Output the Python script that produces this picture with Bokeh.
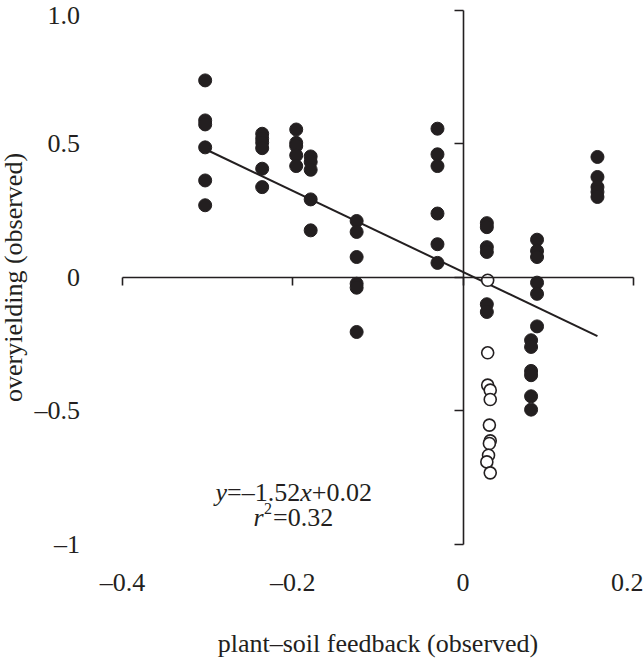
from bokeh.plotting import figure
from bokeh.models import Range1d, LinearAxis, FixedTicker, Label
from bokeh.embed import file_html
from bokeh.resources import INLINE

# ---- data ----
x_ticks = [-0.4, -0.2, 0.0, 0.2]
x_tick_labels = ["–0.4", "–0.2", "0", "0.2"]
y_ticks = [-1.0, -0.5, 0.0, 0.5, 1.0]
y_tick_labels = ["–1", "–0.5", "0", "0.5", "1.0"]

filled_x = ([-0.303] * 6 + [-0.236] * 6 + [-0.196] * 5 + [-0.179] * 5 + [-0.125] * 6 +
            [-0.030] * 6 + [0.028] * 6 + [0.087] * 6 + [0.080] * 6 + [0.158] * 5)
filled_y = [0.738, 0.588, 0.573, 0.487, 0.363, 0.270,
            0.538, 0.520, 0.505, 0.484, 0.407, 0.338,
            0.554, 0.504, 0.492, 0.457, 0.417,
            0.453, 0.432, 0.403, 0.292, 0.176,
            0.211, 0.170, 0.076, -0.024, -0.039, -0.205,
            0.557, 0.461, 0.417, 0.239, 0.124, 0.054,
            0.203, 0.188, 0.113, 0.095, -0.101, -0.130,
            0.141, 0.099, 0.076, -0.020, -0.062, -0.184,
            -0.236, -0.261, -0.351, -0.367, -0.446, -0.496,
            0.451, 0.376, 0.338, 0.320, 0.301]

open_x = [0.029, 0.029, 0.029, 0.032, 0.032, 0.031, 0.032, 0.031, 0.030, 0.028, 0.032]
open_y = [-0.011, -0.283, -0.404, -0.423, -0.458, -0.554, -0.613, -0.623, -0.667, -0.692, -0.733]

slope = -1.52
intercept = 0.02
fit_x = [-0.302, 0.158]
fit_y = [slope * v + intercept for v in fit_x]

FONT = "Liberation Serif"
FS = "26px"
INK = "#231f20"

# the Bokeh page template has no body margin: the canvas fills the 643x664 window
p = figure(width=643, height=664,
           x_range=Range1d(-0.5435, 0.2121), y_range=Range1d(-1.4513, 1.0375),
           output_backend="svg", toolbar_location=None,
           x_axis_type=None, y_axis_type=None,
           min_border_left=0, min_border_right=0, min_border_top=0, min_border_bottom=0)
p.outline_line_color = None
p.xgrid.visible = False
p.ygrid.visible = False

# crossing axes at zero; tick labels and titles pushed out to the plot edges
xax = LinearAxis(fixed_location=0, bounds=(-0.4, 0.2), ticker=FixedTicker(ticks=x_ticks),
                 major_label_overrides=dict(zip(x_ticks, x_tick_labels)),
                 axis_line_width=1.6, axis_line_color=INK,
                 major_tick_line_width=1.6, major_tick_line_color=INK,
                 major_tick_in=0, major_tick_out=8, minor_tick_line_color=None,
                 major_label_text_font=FONT, major_label_text_font_size=FS,
                 major_label_text_color=INK, major_label_standoff=283,
                 axis_label="plant–soil feedback (observed)",
                 axis_label_text_font=FONT, axis_label_text_font_size=FS,
                 axis_label_text_font_style="normal", axis_label_text_color=INK,
                 axis_label_standoff=28)
p.add_layout(xax, "below")
yax = LinearAxis(fixed_location=0, bounds=(-1, 1), ticker=FixedTicker(ticks=y_ticks),
                 major_label_overrides=dict(zip(y_ticks, y_tick_labels)),
                 axis_line_width=1.6, axis_line_color=INK,
                 major_tick_line_width=1.6, major_tick_line_color=INK,
                 major_tick_in=0, major_tick_out=9, minor_tick_line_color=None,
                 major_label_text_font=FONT, major_label_text_font_size=FS,
                 major_label_text_color=INK, major_label_standoff=374,
                 axis_label="overyielding (observed)",
                 axis_label_text_font=FONT, axis_label_text_font_size=FS,
                 axis_label_text_font_style="normal", axis_label_text_color=INK,
                 axis_label_standoff=4)
p.add_layout(yax, "left")

p.line(fit_x, fit_y, line_color=INK, line_width=2)
p.scatter(filled_x, filled_y, size=13, fill_color=INK, line_color=INK, line_width=1)
p.scatter(open_x, open_y, size=12, fill_color="white", line_color=INK, line_width=1.6)

# equation annotation
ax_, ay1, ay2 = -0.2908, -0.8066, -0.9004
pieces1 = [("y", "italic", 0), ("=–1.52", "normal", 11.5), ("x", "italic", 84.7), ("+0.02", "normal", 96.2)]
for txt, st, dx in pieces1:
    p.add_layout(Label(x=ax_, y=ay1, x_offset=dx, text=txt, text_font=FONT, text_font_size=FS,
                       text_font_style=st, text_color=INK, text_baseline="alphabetic",
                       text_align="left"))
pieces2 = [("r", "italic", 38, 0, FS), ("2", "normal", 48.5, 9, "16px"), ("=0.32", "normal", 57.5, 0, FS)]
for txt, st, dx, dy, fs in pieces2:
    p.add_layout(Label(x=ax_, y=ay2, x_offset=dx, y_offset=dy, text=txt, text_font=FONT,
                       text_font_size=fs, text_font_style=st, text_color=INK,
                       text_baseline="alphabetic", text_align="left"))

open("out.html", "w").write(file_html(p, INLINE))
